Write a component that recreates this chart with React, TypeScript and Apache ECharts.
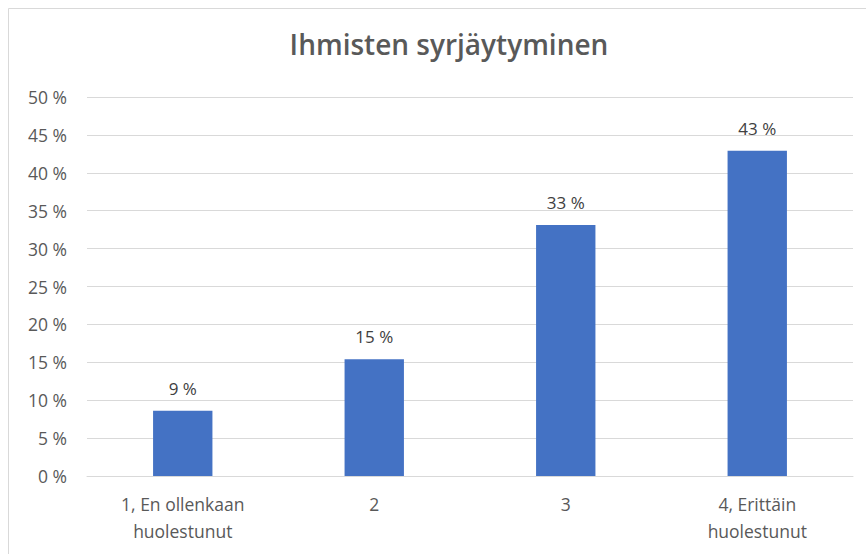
import React, { useEffect, useRef } from "react";
import * as echarts from "echarts";

const title = "Ihmisten syrjäytyminen";
const categories = ["1, En ollenkaan\nhuolestunut", "2", "3", "4, Erittäin\nhuolestunut"];
const values = [8.6, 15.4, 33.1, 42.9];
const valueLabels = ["9 %", "15 %", "33 %", "43 %"];
const yMin = 0;
const yMax = 50;
const yStep = 5;

const FONT = "'Open Sans', 'Noto Sans', sans-serif";

export default function App() {
  const ref = useRef<HTMLDivElement>(null);
  useEffect(() => {
    if (!ref.current) return;
    const chart = echarts.init(ref.current, undefined, { renderer: "svg" });
    chart.setOption({
      animation: false,
      backgroundColor: "#ffffff",
      title: {
        text: title,
        left: 444,
        textAlign: "center",
        top: 25,
        textStyle: { fontFamily: FONT, fontSize: 28, fontWeight: 600, color: "#595959" },
      },
      graphic: [
        {
          type: "rect",
          shape: { x: 8.5, y: 8.5, width: 900, height: 600 },
          style: { fill: "none", stroke: "#d9d9d9", lineWidth: 1 },
          silent: true,
        },
      ],
      grid: { left: 87, right: 13, top: 97, bottom: 78, containLabel: false },
      xAxis: {
        type: "category",
        data: categories,
        axisLine: { show: true, lineStyle: { color: "#d9d9d9", width: 1 } },
        axisTick: { show: false },
        axisLabel: {
          fontFamily: FONT,
          fontSize: 17.5,
          color: "#595959",
          margin: 14,
          lineHeight: 27,
          interval: 0,
        },
      },
      yAxis: {
        type: "value",
        min: yMin,
        max: yMax,
        interval: yStep,
        axisLine: { show: false },
        axisTick: { show: false },
        splitLine: { lineStyle: { color: "#d9d9d9", width: 1 } },
        axisLabel: {
          fontFamily: FONT,
          fontSize: 17.5,
          color: "#595959",
          margin: 20,
          formatter: (v: number) => `${v} %`,
        },
      },
      series: [
        {
          type: "bar",
          data: values,
          barWidth: "31%",
          itemStyle: { color: "#4472C4" },
          label: {
            show: true,
            position: "top",
            distance: 14,
            fontFamily: FONT,
            fontSize: 17,
            color: "#404040",
            formatter: (p: any) => valueLabels[p.dataIndex],
          },
        },
      ],
    });
    return () => chart.dispose();
  }, []);
  return (
    <div
      ref={ref}
      style={{ position: "fixed", left: 0, top: 0, width: 866, height: 554 }}
    />
  );
}
